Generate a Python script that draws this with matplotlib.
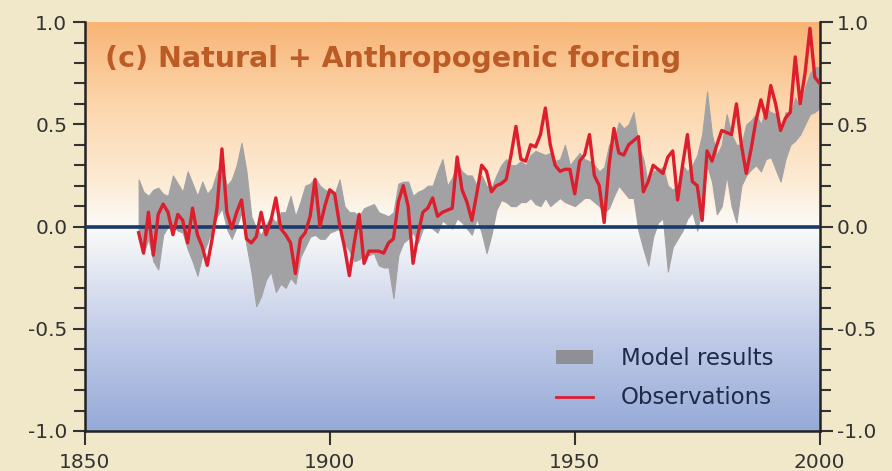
import numpy as np
import matplotlib
matplotlib.use('Agg')
import matplotlib.pyplot as plt
from matplotlib.colors import LinearSegmentedColormap
from matplotlib.lines import Line2D
from matplotlib.patches import Patch
from matplotlib.ticker import MultipleLocator

'''Natural + anthropogenic forcing: model range vs observed temperature anomalies'''

years = np.arange(1861, 2001)

#Observed anomalies (red line), one row per decade
observations = [
    -0.03, -0.13, 0.07, -0.14, 0.06, 0.11, 0.07, -0.04, 0.06, 0.03,
    -0.08, 0.09, -0.04, -0.10, -0.19, -0.06, 0.09, 0.38, 0.07, -0.01,
    0.07, 0.13, -0.06, -0.08, -0.05, 0.07, -0.04, 0.03, 0.14, -0.01,
    -0.04, -0.08, -0.23, -0.06, -0.03, 0.05, 0.23, 0.00, 0.10, 0.18,
    0.16, 0.01, -0.10, -0.24, -0.08, 0.06, -0.18, -0.12, -0.12, -0.12,
    -0.13, -0.08, -0.06, 0.12, 0.20, 0.10, -0.18, -0.04, 0.07, 0.09,
    0.14, 0.05, 0.07, 0.08, 0.09, 0.34, 0.18, 0.12, 0.03, 0.16,
    0.30, 0.27, 0.17, 0.20, 0.21, 0.23, 0.35, 0.49, 0.33, 0.32,
    0.40, 0.39, 0.45, 0.58, 0.40, 0.30, 0.27, 0.28, 0.28, 0.16,
    0.32, 0.35, 0.45, 0.25, 0.20, 0.02, 0.30, 0.48, 0.36, 0.35,
    0.40, 0.42, 0.44, 0.17, 0.22, 0.30, 0.28, 0.26, 0.34, 0.37,
    0.13, 0.30, 0.45, 0.22, 0.20, 0.03, 0.37, 0.32, 0.40, 0.47,
    0.46, 0.45, 0.60, 0.40, 0.26, 0.38, 0.52, 0.62, 0.53, 0.69,
    0.60, 0.47, 0.53, 0.56, 0.83, 0.60, 0.75, 0.97, 0.73, 0.70,
]

#Model ensemble range (gray band)
modelUpper = [
    0.23, 0.17, 0.15, 0.18, 0.19, 0.16, 0.15, 0.25, 0.21, 0.17,
    0.27, 0.21, 0.15, 0.22, 0.16, 0.19, 0.27, 0.30, 0.20, 0.23,
    0.30, 0.41, 0.27, 0.05, -0.01, -0.04, 0.01, 0.05, 0.02, 0.07,
    0.07, 0.15, 0.05, 0.12, 0.20, 0.21, 0.24, 0.20, 0.18, 0.17,
    0.16, 0.23, 0.10, 0.07, 0.07, 0.05, 0.09, 0.10, 0.11, 0.07,
    0.06, 0.05, 0.07, 0.21, 0.22, 0.22, 0.15, 0.17, 0.18, 0.20,
    0.20, 0.27, 0.33, 0.20, 0.24, 0.31, 0.27, 0.25, 0.25, 0.20,
    0.25, 0.20, 0.19, 0.25, 0.30, 0.33, 0.30, 0.30, 0.32, 0.30,
    0.35, 0.37, 0.36, 0.35, 0.36, 0.32, 0.33, 0.40, 0.30, 0.33,
    0.36, 0.33, 0.32, 0.30, 0.27, 0.29, 0.40, 0.42, 0.51, 0.48,
    0.50, 0.56, 0.40, 0.33, 0.20, 0.27, 0.28, 0.29, 0.20, 0.18,
    0.20, 0.30, 0.27, 0.30, 0.35, 0.45, 0.66, 0.45, 0.35, 0.40,
    0.55, 0.45, 0.40, 0.40, 0.50, 0.52, 0.55, 0.50, 0.58, 0.56,
    0.55, 0.45, 0.56, 0.55, 0.63, 0.58, 0.68, 0.75, 0.78, 0.78,
]
modelLower = [
    -0.06, -0.13, -0.06, -0.17, -0.21, -0.04, 0.00, 0.00, -0.02, -0.03,
    -0.11, -0.17, -0.24, -0.14, -0.08, -0.01, 0.05, 0.09, -0.01, -0.06,
    0.00, 0.07, -0.09, -0.22, -0.39, -0.34, -0.26, -0.22, -0.32, -0.28,
    -0.30, -0.25, -0.28, -0.15, -0.10, -0.05, -0.04, -0.06, -0.06, -0.03,
    -0.02, -0.01, -0.08, -0.12, -0.17, -0.16, -0.14, -0.14, -0.13, -0.19,
    -0.20, -0.20, -0.35, -0.14, -0.08, -0.06, -0.03, -0.08, -0.01, 0.00,
    -0.01, -0.03, 0.03, 0.01, -0.01, 0.04, 0.02, -0.01, -0.04, 0.04,
    -0.03, -0.13, -0.04, 0.08, 0.13, 0.12, 0.10, 0.10, 0.12, 0.12,
    0.14, 0.11, 0.10, 0.14, 0.10, 0.12, 0.14, 0.12, 0.11, 0.10,
    0.12, 0.14, 0.14, 0.12, 0.10, 0.07, 0.09, 0.15, 0.20, 0.17,
    0.14, 0.14, -0.02, -0.11, -0.19, -0.05, 0.02, 0.04, -0.22, -0.10,
    -0.06, -0.02, 0.04, 0.07, -0.02, 0.10, 0.30, 0.22, 0.06, 0.10,
    0.25, 0.10, 0.02, 0.20, 0.25, 0.28, 0.30, 0.27, 0.33, 0.34,
    0.28, 0.22, 0.33, 0.40, 0.42, 0.45, 0.50, 0.55, 0.56, 0.58,
]

xTicks = [1850, 1900, 1950, 2000]
yTicks = [-1.0, -0.5, 0.0, 0.5, 1.0]
titleText = '(c) Natural + Anthropogenic forcing'
legendLabels = ['Model results', 'Observations']

#Settings
figBg = '#f0e8c9'
redColor = '#dc1e2d'
grayColor = '#a2a2a4'
titleColor = '#bb5c27'
textColor = '#1e2a48'
plt.rcParams['font.family'] = ['DejaVu Sans']
plt.rcParams['axes.unicode_minus'] = False

fig = plt.figure(figsize=[8.92, 4.71], dpi=100, facecolor=figBg)
ax = fig.add_axes([0.095, 0.085, 0.824, 0.868])

#Background gradient: blue below zero, orange above
bgCmap = LinearSegmentedColormap.from_list('bg', [
    (0.0, (150/255, 170/255, 215/255)),
    (0.25, (196/255, 206/255, 233/255)),
    (0.5, (251/255, 251/255, 249/255)),
    (0.6, (253/255, 236/255, 215/255)),
    (0.8, (252/255, 214/255, 172/255)),
    (1.0, (248/255, 180/255, 118/255))])
grad = np.linspace(-1, 1, 256).reshape(-1, 1)
ax.imshow(grad, cmap=bgCmap, origin='lower', aspect='auto',
          extent=[1850, 2000, -1, 1], zorder=0)

ax.fill_between(years, modelLower, modelUpper, color=grayColor, lw=0.8,
                edgecolor=grayColor, zorder=2)
ax.axhline(0, color='#1b3a6c', lw=2.6, zorder=3)
ax.plot(years, observations, color=redColor, lw=2.4, zorder=4)

ax.set_xlim(1850, 2000)
ax.set_ylim(-1, 1)
ax.set_xticks(xTicks)
ax.set_yticks(yTicks)
ax.set_yticklabels(['%.1f' % v for v in yTicks])
ax.yaxis.set_minor_locator(MultipleLocator(0.1))
ax.tick_params(axis='y', which='both', direction='out', left=True, right=True,
               labelleft=True, labelright=True, labelsize=14.5, colors='#333333',
               labelcolor='#333333')
ax.tick_params(axis='y', which='major', length=9, width=1.5)
ax.tick_params(axis='y', which='minor', length=8, width=1.5)
ax.tick_params(axis='x', which='major', direction='out', length=10, width=1.5,
               labelsize=14.5, colors='#333333', pad=6)

ax.spines['top'].set_visible(False)
for side in ['left', 'right', 'bottom']:
    ax.spines[side].set_linewidth(1.8)
    ax.spines[side].set_color('#222222')

ax.text(0.027, 0.945, titleText, transform=ax.transAxes, fontsize=20.5,
        fontweight='bold', color=titleColor, va='top', ha='left', zorder=5)

handles = [Patch(facecolor='#8e9096', edgecolor='none'),
           Line2D([0], [0], color=redColor, lw=2)]
leg = ax.legend(handles, legendLabels, loc='lower right',
                bbox_to_anchor=(0.952, 0.025), frameon=False, fontsize=16.5,
                handlelength=1.6, handleheight=0.55, handletextpad=1.2,
                labelspacing=0.72, borderpad=0)
for t in leg.get_texts():
    t.set_color(textColor)

plt.savefig('out.png', dpi=100, facecolor=figBg)
